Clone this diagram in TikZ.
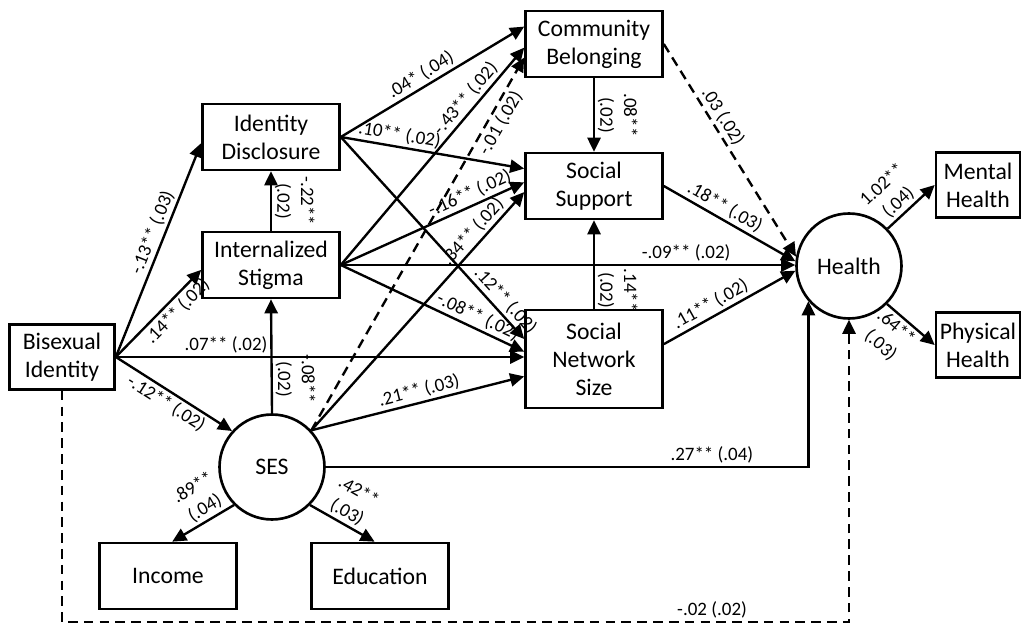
\documentclass[tikz,border=0pt]{standalone}
\usepackage{fontspec}
\setmainfont{Carlito}
\usetikzlibrary{arrows.meta}
\tikzset{
  var/.style = {draw, line width=1.5pt, minimum width=2.74cm, minimum height=1.32cm,
    align=center, inner sep=1pt, font=\fontsize{13.5}{16}\selectfont},
  latent/.style = {draw, circle, line width=1.5pt, minimum size=2.1cm, inner sep=0pt,
    font=\fontsize{13.5}{16}\selectfont},
  effect/.style = {-{Triangle[length=8pt,width=7.5pt]}, line width=1.35pt},
  nseffect/.style = {effect, dash pattern=on 5.5pt off 3.5pt},
  coef/.style = {font=\fontsize{10.8}{13.5}\selectfont, inner sep=1.5pt, align=center},
  vcoef/.style = {coef, rotate=-90, anchor=south}
}

\begin{document}
\begin{tikzpicture}[x=0.02cm, y=-0.02cm]
  \useasboundingbox (0,0) rectangle (1022,625);
  \node[var, minimum width=2.1cm, minimum height=1.3cm] (bi) at (62,357) {Bisexual\\Identity};
  \node[var] (id) at (271,137) {Identity\\Disclosure};
  \node[var] (is) at (271,265) {Internalized\\Stigma};
  \node[var] (cb) at (594,44) {Community\\Belonging};
  \node[var] (ss) at (594,186) {Social\\Support};
  \node[var, minimum height=1.96cm] (sns) at (594,359) {Social\\Network\\Size};
  \node[latent] (hl) at (849,266) {Health};
  \node[var, minimum width=1.68cm, minimum height=1.3cm] (mh) at (978,185) {Mental\\Health};
  \node[var, minimum width=1.68cm, minimum height=1.3cm] (ph) at (978,345) {Physical\\Health};
  \node[latent] (ses) at (272,467) {SES};
  \node[var] (inc) at (168,576) {Income};
  \node[var] (edu) at (380,576) {Education};
  \coordinate (low) at (0,622);

  % bisexual identity
  \draw[effect] (bi.east) -- node[coef, pos=0.56, above, sloped] {-.13** (.03)} (id.185);
  \draw[effect] (bi.east) -- node[coef, pos=0.62, below, sloped] {.14** (.02)} (is.184);
  \draw[effect] (bi.east) -- node[coef, pos=0.27, above] {.07** (.02)} (bi.east -| sns.west);
  \draw[effect] (bi.east) -- node[coef, pos=0.49, below, sloped] {-.12** (.02)} (ses.138);
  \draw[nseffect] (bi.south) -- (bi.south |- low) -- node[coef, pos=0.826, above] {-.02 (.02)} (low -| hl.south) -- (hl.south);

  % mediators
  \draw[effect] (is.north) -- node[vcoef, midway] {-.22**\\(.02)} (id.south);
  \draw[effect] (ses.north) -- node[vcoef, pos=0.3] {-.08**\\(.02)} (is.south);
  \draw[effect] (id.east) -- node[coef, pos=0.47, above, sloped] {.04* (.04)} (cb.166);
  \draw[effect] (id.east) -- node[coef, pos=0.31, above, sloped] {.10** (.02)} (ss.166);
  \draw[effect] (id.east) -- node[coef, pos=0.85, above, sloped] {.12** (.02)} (sns.164);
  \draw[effect] (is.east) -- node[coef, pos=0.73, above, sloped] {-.43** (.02)} (cb.183);
  \draw[effect] (is.east) -- node[coef, pos=0.73, above, sloped] {-.16** (.02)} (ss.177);
  \draw[effect] (is.east) -- node[coef, pos=0.76, above] {-.09** (.02)} (is.east -| hl.west);
  \draw[effect] (is.east) -- node[coef, pos=0.72, above, sloped] {-.08** (.02)} (sns.174);
  \draw[nseffect] (ses.43) -- node[coef, pos=0.84, below, sloped] {-.01 (.02)} (cb.191);
  \draw[effect] (ses.43) -- node[coef, pos=0.8, above, sloped] {.34** (.02)} (ss.185);
  \draw[effect] (ses.43) -- node[coef, pos=0.52, above, sloped] {.21** (.03)} (sns.194);
  \draw[effect] (ses.east) -- node[coef, pos=0.8, above] {.27** (.04)} (ses.east -| hl.221) -- (hl.221);
  \draw[effect] (ses.225) -- node[coef, pos=0.37, above, sloped] {.89**\\(.04)} (inc.83);
  \draw[effect] (ses.315) -- node[coef, pos=0.48, above, sloped] {.42**\\(.03)} (edu.99);
  \draw[effect] (cb.south) -- node[vcoef, midway] {.08**\\(.02)} (ss.north);
  \draw[effect] (sns.north) -- node[vcoef, pos=0.21] {.14**\\(.02)} (ss.south);

  % health
  \draw[nseffect] (cb.east) -- node[coef, pos=0.37, above, sloped] {.03 (.02)} (hl.170);
  \draw[effect] (ss.east) -- node[coef, pos=0.42, above, sloped] {.18** (.03)} (hl.175);
  \draw[effect] (sns.12) -- node[coef, pos=0.4, above, sloped] {.11** (.02)} (hl.185);
  \draw[effect] (hl.44) -- node[coef, pos=0.4, above, sloped] {1.02**\\(.04)} (mh.west);
  \draw[effect] (hl.-45) -- node[coef, pos=0.35, below, sloped] {.64**\\(.03)} (ph.west);
\end{tikzpicture}
\end{document}
